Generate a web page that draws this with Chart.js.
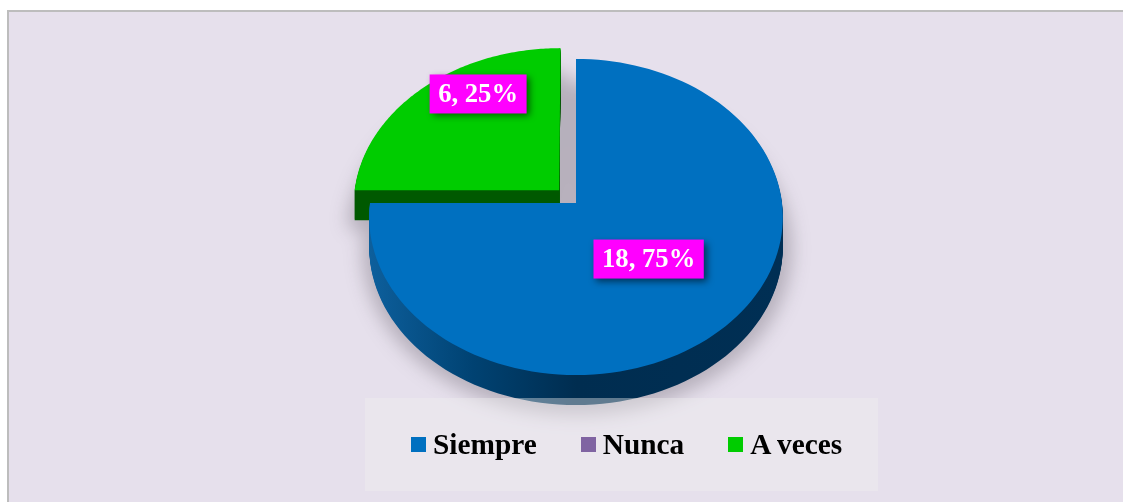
<!DOCTYPE html>
<html>
<head>
<meta charset="utf-8">
<script src="https://cdn.jsdelivr.net/npm/chart.js@4"></script>
<style>
    html, body { margin: 0; padding: 0; background: #fff; width: 1123px; height: 502px; overflow: hidden; }
    #frame { position: absolute; left: 7px; top: 10px; right: 0; bottom: 0; background: #e6e0ec; border-top: 2px solid #bdbdbd; border-left: 2px solid #bdbdbd; }
    #studyPie { position: absolute; left: 0; top: 0; }
    #legendBox { position: absolute; left: 365px; top: 398px; width: 513px; height: 93px; background: rgba(240, 240, 240, 0.4); display: flex; align-items: center; padding-left: 46px; box-sizing: border-box; gap: 44px; font: bold 29.33px "Liberation Serif", serif; color: #000; }
    #legendBox .item { display: flex; align-items: center; white-space: pre; }
    #legendBox .swatch { display: inline-block; width: 15px; height: 15px; margin-right: 7px; }
</style>
</head>
<body>
<div id="frame"></div>
<canvas id="studyPie" width="1123" height="502"></canvas>
<div id="legendBox"></div>
<script>
let categories = ["Siempre", "Nunca", "A veces"];
let percentValues = [18.75, 0, 6.25];
let valueLabels = ["18, 75%", "", "6, 25%"];
let sliceColors = ["#0070c0", "#8064a2", "#00cc00"];

// tilted disc: horizontal radius, vertical radius and perspective
const RX = 206, RY = 156.8, PERSP = 0.0885, DEPTH = 30;

function project(arc, c, s) {
    let w = 1 - PERSP * s;
    return [arc.x + RX * c / w, arc.y + RY * s / w];
}

function slicePath(ctx, arc, dy) {
    let mid = (arc.startAngle + arc.endAngle) / 2;
    let off = arc.options.offset / RX;
    let ox = Math.cos(mid) * off, oy = Math.sin(mid) * off;
    let p = project(arc, ox, oy);
    ctx.beginPath();
    ctx.moveTo(p[0], p[1] + dy);
    for (let i = 0; i <= 120; i++) {
        let a = arc.startAngle + (arc.endAngle - arc.startAngle) * i / 120;
        p = project(arc, ox + Math.cos(a), oy + Math.sin(a));
        ctx.lineTo(p[0], p[1] + dy);
    }
    ctx.closePath();
}

function sideFill(ctx, index) {
    if (index === 2) return "#005a00";
    let g = ctx.createLinearGradient(370, 0, 783, 0);
    g.addColorStop(0, "#0d5f9c");
    g.addColorStop(0.25, "#004272");
    g.addColorStop(0.5, "#002d50");
    g.addColorStop(1, "#002f54");
    return g;
}

// Pie drawn from the arcs the library computed
const tiltedPie = {
    id: "tiltedPie",
    beforeDatasetDraw(chart, args) {
        let ctx = chart.ctx;
        let arcs = chart.getDatasetMeta(args.index).data;
        let order = [2, 0];

        // one flat silhouette, so overlapping slices do not double the shadow
        let flat = document.createElement("canvas");
        flat.width = chart.width;
        flat.height = chart.height;
        let fctx = flat.getContext("2d");
        fctx.fillStyle = "#000";
        fctx.strokeStyle = "#000";
        fctx.lineWidth = 16;
        fctx.lineJoin = "round";
        order.forEach(function (i) {
            slicePath(fctx, arcs[i], DEPTH);
            fctx.stroke();
            fctx.fill();
        });

        // only the shadow lands on the chart, the silhouette stays off canvas
        ctx.save();
        ctx.shadowColor = "rgba(40, 30, 45, 0.25)";
        ctx.shadowBlur = 18;
        ctx.shadowOffsetX = 3001;
        ctx.shadowOffsetY = 2;
        ctx.drawImage(flat, -3000, 0);
        ctx.restore();

        order.forEach(function (i) {
            let fill = sideFill(ctx, i);
            for (let d = DEPTH; d > 0; d--) {
                slicePath(ctx, arcs[i], d);
                ctx.fillStyle = fill;
                ctx.fill();
            }
            slicePath(ctx, arcs[i], 0);
            ctx.fillStyle = sliceColors[i];
            ctx.fill();
        });
        return false;
    },
    afterDatasetsDraw(chart) {
        let ctx = chart.ctx;
        let arcs = chart.getDatasetMeta(0).data;
        let nudge = [[-1, 0], [0, 0], [2, -33]];
        let reach = [0.49, 0, 0.6];
        ctx.save();
        ctx.font = "bold 26.67px 'Liberation Serif', serif";
        ctx.textAlign = "center";
        ctx.textBaseline = "middle";
        valueLabels.forEach(function (text, i) {
            if (text === "") return;
            let arc = arcs[i];
            let mid = (arc.startAngle + arc.endAngle) / 2;
            let off = arc.options.offset / RX;
            let p = project(arc, Math.cos(mid) * (off + reach[i]), Math.sin(mid) * (off + reach[i]));
            let x = p[0] + nudge[i][0], y = p[1] + nudge[i][1];
            let w = ctx.measureText(text).width + 17;
            ctx.save();
            ctx.shadowColor = "rgba(0, 0, 0, 0.55)";
            ctx.shadowBlur = 7;
            ctx.shadowOffsetX = 3;
            ctx.shadowOffsetY = 3;
            ctx.fillStyle = "#ff00ff";
            ctx.fillRect(x - w / 2, y - 19.5, w, 39);
            ctx.restore();
            ctx.fillStyle = "#fff";
            ctx.fillText(text, x, y + 1);
        });
        ctx.restore();
    }
};

let chart = new Chart(document.getElementById("studyPie").getContext("2d"), {
    type: "pie",
    data: {
        labels: categories,
        datasets: [{
            data: percentValues,
            backgroundColor: sliceColors,
            borderWidth: 0,
            offset: [0, 0, 24]
        }]
    },
    options: {
        responsive: false,
        animation: false,
        layout: { padding: { left: 29, bottom: 96 } },
        plugins: { legend: { display: false }, tooltip: { enabled: false } }
    },
    plugins: [tiltedPie]
});

// Legend
let legendBox = document.getElementById("legendBox");
categories.forEach(function (name, i) {
    let item = document.createElement("span");
    item.className = "item";
    let swatch = document.createElement("span");
    swatch.className = "swatch";
    swatch.style.background = sliceColors[i];
    item.appendChild(swatch);
    item.appendChild(document.createTextNode(name));
    legendBox.appendChild(item);
});
</script>
</body>
</html>
